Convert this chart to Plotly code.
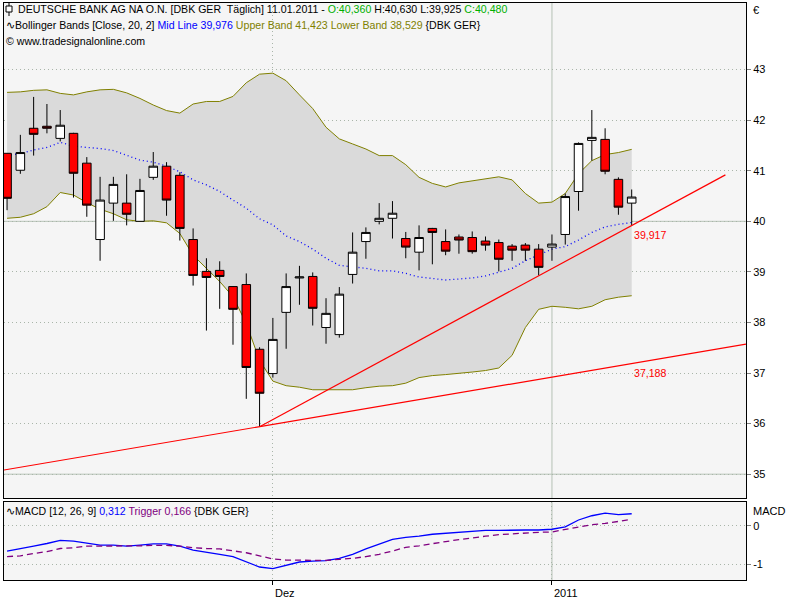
import plotly.graph_objects as go

# ---------------- data ----------------
opens = [41.345, 41.01, 41.84, 41.88, 41.64, 41.74, 41.15, 39.64, 40.36, 40.36,
         40.00, 40.87, 41.09, 40.91, 39.64, 39.01, 39.03, 38.71, 38.75, 37.47,
         36.99, 38.20, 38.88, 38.91, 37.90, 37.76, 38.95, 39.60, 40.00, 40.06,
         39.66, 39.39, 39.86, 39.60, 39.69, 39.68, 39.61, 39.58, 39.51, 39.53,
         39.45, 39.49, 39.74, 40.59, 41.60, 41.62, 40.83, 40.36]
highs = [41.35, 41.71, 42.46, 42.32, 42.20, 41.75, 41.27, 40.88, 40.88, 40.93,
         40.84, 41.37, 41.17, 40.97, 39.86, 39.27, 39.21, 38.72, 38.97, 37.51,
         38.09, 38.97, 39.12, 38.99, 38.48, 38.70, 39.78, 39.88, 40.36, 40.40,
         39.79, 39.92, 39.87, 39.84, 39.74, 39.80, 39.70, 39.64, 39.55, 39.57,
         39.55, 39.74, 40.55, 41.56, 42.20, 41.84, 40.87, 40.63]
lows = [40.22, 40.94, 41.30, 41.74, 41.58, 40.47, 40.09, 39.22, 40.01, 39.92,
        40.00, 40.82, 40.11, 39.62, 38.73, 37.84, 38.27, 37.56, 36.49, 35.94,
        36.91, 37.48, 38.35, 37.94, 37.58, 37.70, 38.77, 39.26, 39.94, 39.66,
        39.27, 39.03, 39.15, 39.33, 39.36, 39.36, 39.42, 39.01, 39.22, 39.22,
        38.93, 39.22, 39.54, 40.21, 41.20, 40.93, 40.13, 39.925]
closes = [40.455, 41.36, 41.72, 41.84, 41.90, 40.95, 40.32, 40.42, 40.73, 40.14,
          40.61, 41.09, 40.42, 39.86, 38.93, 38.89, 38.91, 38.26, 37.11, 36.60,
          37.665, 38.71, 38.90, 38.28, 38.18, 38.56, 39.39, 39.78, 40.06, 40.16,
          39.49, 39.68, 39.78, 39.41, 39.63, 39.40, 39.53, 39.25, 39.43, 39.43,
          39.09, 39.55, 40.49, 41.54, 41.66, 40.99, 40.28, 40.48]

upper_band = [42.55, 42.56, 42.59, 42.60, 42.53, 42.50, 42.56, 42.60, 42.61, 42.54,
              42.43, 42.30, 42.19, 42.14, 42.32, 42.37, 42.37, 42.47, 42.74, 42.91,
              42.93, 42.78, 42.50, 42.23, 41.86, 41.63, 41.53, 41.43, 41.30, 41.30,
              41.12, 40.87, 40.75, 40.68, 40.76, 40.80, 40.84, 40.88, 40.82, 40.55,
              40.36, 40.38, 40.55, 40.94, 41.20, 41.32, 41.36, 41.423]
lower_band = [40.06, 40.08, 40.15, 40.29, 40.57, 40.52, 40.37, 40.24, 40.15, 40.03,
              40.00, 40.01, 39.97, 39.76, 39.33, 39.07, 38.81, 38.51, 37.98, 37.25,
              36.84, 36.75, 36.72, 36.67, 36.67, 36.67, 36.67, 36.71, 36.74, 36.75,
              36.80, 36.91, 36.95, 36.97, 36.99, 37.02, 37.05, 37.10, 37.35, 37.90,
              38.26, 38.32, 38.30, 38.27, 38.32, 38.45, 38.50, 38.529]
mid_line = [41.30, 41.34, 41.41, 41.46, 41.56, 41.49, 41.46, 41.44, 41.40, 41.31,
            41.21, 41.17, 41.09, 40.98, 40.82, 40.72, 40.59, 40.42, 40.26, 40.05,
            39.93, 39.71, 39.60, 39.45, 39.27, 39.13, 39.10, 39.07, 39.02, 39.02,
            38.97, 38.90, 38.87, 38.84, 38.86, 38.88, 38.92, 38.99, 39.07, 39.22,
            39.34, 39.45, 39.50, 39.63, 39.78, 39.89, 39.94, 39.976]

macd = [-0.655, -0.60, -0.53, -0.46, -0.38, -0.40, -0.46, -0.50, -0.50, -0.53,
        -0.50, -0.47, -0.47, -0.53, -0.63, -0.68, -0.74, -0.80, -0.93, -1.07,
        -1.11, -1.02, -0.94, -0.915, -0.905, -0.845, -0.74, -0.60, -0.47, -0.35,
        -0.30, -0.27, -0.22, -0.19, -0.17, -0.14, -0.12, -0.12, -0.11, -0.11,
        -0.11, -0.09, -0.03, 0.15, 0.26, 0.33, 0.29, 0.312]
trigger = [-0.80, -0.78, -0.72, -0.67, -0.59, -0.57, -0.53, -0.53, -0.52, -0.53,
           -0.52, -0.51, -0.51, -0.53, -0.57, -0.59, -0.60, -0.65, -0.70, -0.78,
           -0.86, -0.89, -0.89, -0.89, -0.90, -0.87, -0.845, -0.80, -0.74, -0.655,
           -0.56, -0.52, -0.46, -0.41, -0.36, -0.31, -0.27, -0.23, -0.21, -0.18,
           -0.17, -0.16, -0.10, -0.04, 0.03, 0.06, 0.12, 0.166]

x_tick_pos = [20, 41]
x_tick_labels = ["Dez", "2011"]
price_ticks = [35, 36, 37, 38, 39, 40, 41, 42, 43]
macd_ticks = [0, -1]

# trend lines: anchored at the low of bar 20, value at the last bar
trend_anchor_bar = 19
trend_last_values = [37.188, 39.917]
trend_end_bar = [55.6, 54.05]
trend_labels = ["37,188", "39,917"]

idx = list(range(len(closes)))
last = idx[-1]

X_RANGE = [-0.23, 55.6]
Y_RANGE = [34.528, 44.317]
Y2_RANGE = [-1.407, 0.614]

GRID = "#a9b5a9"
SOLID = "#b6c2b6"
FONT = "Liberation Sans"
FS = 10.6

fig = go.Figure()

# Bollinger bands (main axes, bottom layer)
fig.add_trace(go.Scatter(x=idx, y=upper_band, mode="lines",
                         line=dict(color="#808000", width=1), hoverinfo="skip"))
fig.add_trace(go.Scatter(x=idx, y=lower_band, mode="lines", fill="tonexty",
                         fillcolor="#dadada",
                         line=dict(color="#808000", width=1), hoverinfo="skip"))
fig.add_trace(go.Scatter(x=idx, y=mid_line, mode="lines",
                         line=dict(color="#0000ff", width=1.3, dash="1px,3px"),
                         hoverinfo="skip"))

# candles on an overlay axis so they sit above the band fill
fig.add_trace(go.Candlestick(
    x=idx, open=opens, high=highs, low=lows, close=closes,
    xaxis="x", yaxis="y3",
    increasing=dict(line=dict(color="black", width=1), fillcolor="white"),
    decreasing=dict(line=dict(color="black", width=1), fillcolor="#ff0000"),
    whiskerwidth=0, hoverinfo="skip"))

# trend lines (overlay axis, above candles)
anchor_val = lows[trend_anchor_bar]
for i, lv in enumerate(trend_last_values):
    slope = (lv - anchor_val) / (last - trend_anchor_bar)
    if i == 0:
        xs = [X_RANGE[0], trend_anchor_bar, last, trend_end_bar[i]]
    else:
        xs = [trend_anchor_bar, last, trend_end_bar[i]]
    ys = [anchor_val + slope * (xv - trend_anchor_bar) for xv in xs]
    fig.add_trace(go.Scatter(x=xs, y=ys, mode="lines", xaxis="x", yaxis="y3",
                             line=dict(color="#ff0000", width=1.2), hoverinfo="skip"))
    fig.add_annotation(x=last, y=lv, xref="x", yref="y", text=trend_labels[i],
                       showarrow=False, xanchor="left", yanchor="top", yshift=-1,
                       font=dict(color="#ff0000", size=FS, family=FONT))

# MACD
fig.add_trace(go.Scatter(x=idx, y=macd, mode="lines", xaxis="x2", yaxis="y2",
                         line=dict(color="#0000ff", width=1.3), hoverinfo="skip"))
fig.add_trace(go.Scatter(x=idx, y=trigger, mode="lines", xaxis="x2", yaxis="y2",
                         line=dict(color="#800080", width=1.3, dash="6px,4px"),
                         hoverinfo="skip"))

# layout
axis_common = dict(showline=True, mirror=True, linecolor="black", linewidth=1,
                   zeroline=False, fixedrange=True)
fig.update_layout(
    width=800, height=600,
    margin=dict(l=4, r=54, t=3, b=20),
    paper_bgcolor="white", plot_bgcolor="#f5f5f5",
    showlegend=False, boxgap=0.08,
    font=dict(family=FONT, size=FS, color="black"),
    xaxis=dict(domain=[0, 1], range=X_RANGE, anchor="y",
               tickvals=[x_tick_pos[0]], showticklabels=False, ticks="",
               showgrid=True, gridcolor=GRID, griddash="1px,3px", gridwidth=1,
               rangeslider=dict(visible=False), **axis_common),
    yaxis=dict(domain=[0.142, 1], range=Y_RANGE, anchor="x", side="right",
               tickvals=price_ticks, ticks="outside", ticklen=4, tickcolor="#808080",
               showgrid=True, gridcolor=GRID, griddash="1px,3px", gridwidth=1,
               tickfont=dict(size=11), **axis_common),
    yaxis3=dict(overlaying="y", range=Y_RANGE, anchor="x", side="right",
                showticklabels=False, ticks="", showgrid=False, zeroline=False,
                showline=False, fixedrange=True),
    xaxis2=dict(domain=[0, 1], range=X_RANGE, anchor="y2",
                tickvals=x_tick_pos, ticktext=["", ""], ticks="outside", ticklen=4,
                tickcolor="black",
                showgrid=True, gridcolor=GRID, griddash="1px,3px", gridwidth=1,
                **axis_common),
    yaxis2=dict(domain=[0, 0.135], range=Y2_RANGE, anchor="x2", side="right",
                tickvals=macd_ticks, ticktext=["0", "-1"], ticks="outside", ticklen=4,
                tickcolor="#808080",
                showgrid=True, gridcolor=GRID, griddash="1px,3px", gridwidth=1,
                tickfont=dict(size=11), **axis_common),
)

# solid reference lines
for yv in (40, 35):
    fig.add_shape(type="line", xref="x domain", yref="y", x0=0, x1=1, y0=yv, y1=yv,
                  line=dict(color=SOLID, width=1), layer="below")
fig.add_shape(type="line", xref="x", yref="y domain", x0=x_tick_pos[1], x1=x_tick_pos[1],
              y0=0, y1=1, line=dict(color=SOLID, width=1), layer="below")
fig.add_shape(type="line", xref="x2", yref="y2 domain", x0=x_tick_pos[1], x1=x_tick_pos[1],
              y0=0, y1=1, line=dict(color=SOLID, width=1), layer="below")

# x tick labels (left aligned at tick)
for xv, lab in zip(x_tick_pos, x_tick_labels):
    fig.add_annotation(x=xv, y=-0.022, xref="x2", yref="paper", text=lab,
                       showarrow=False, xanchor="left", yanchor="middle", xshift=0,
                       font=dict(size=11, family=FONT))


def px(xp):
    return (xp - 4) / 742.0


def py(yp):
    return (580 - yp) / 577.0


def header(x0, y0, text, size=FS):
    fig.add_annotation(x=px(x0), y=py(y0), xref="paper", yref="paper", text=text,
                       showarrow=False, xanchor="left", yanchor="middle",
                       font=dict(size=size, family=FONT, color="black"))


GREEN = "#00b000"
header(16, 9, "DEUTSCHE BANK AG NA O.N. [DBK GER  Täglich] 11.01.2011 - "
       f"<span style='color:{GREEN}'>O:40,360</span> H:40,630 L:39,925 "
       f"<span style='color:{GREEN}'>C:40,480</span>")
header(4, 25, "∿Bollinger Bands [Close, 20, 2] "
       "<span style='color:#0000ff'>Mid Line 39,976</span> "
       "<span style='color:#808000'>Upper Band 41,423 Lower Band 38,529</span> {DBK GER}")
header(4, 41, "© www.tradesignalonline.com")
header(4, 511, "∿MACD [12, 26, 9] <span style='color:#0000ff'>0,312</span> "
       "<span style='color:#800080'>Trigger 0,166</span> {DBK GER}")
header(751, 10, "€", 11)
header(751, 511, "MACD", 11)

# small candle icon in the title line
fig.add_shape(type="line", xref="paper", yref="paper", x0=px(9), x1=px(9), y0=py(3), y1=py(16),
              line=dict(color="black", width=1))
fig.add_shape(type="rect", xref="paper", yref="paper", x0=px(6), x1=px(12), y0=py(6), y1=py(12),
              line=dict(color="black", width=1), fillcolor="white")

fig.write_html("out.html", config={"displayModeBar": False, "staticPlot": True},
               post_script="document.body.style.margin='0';")
